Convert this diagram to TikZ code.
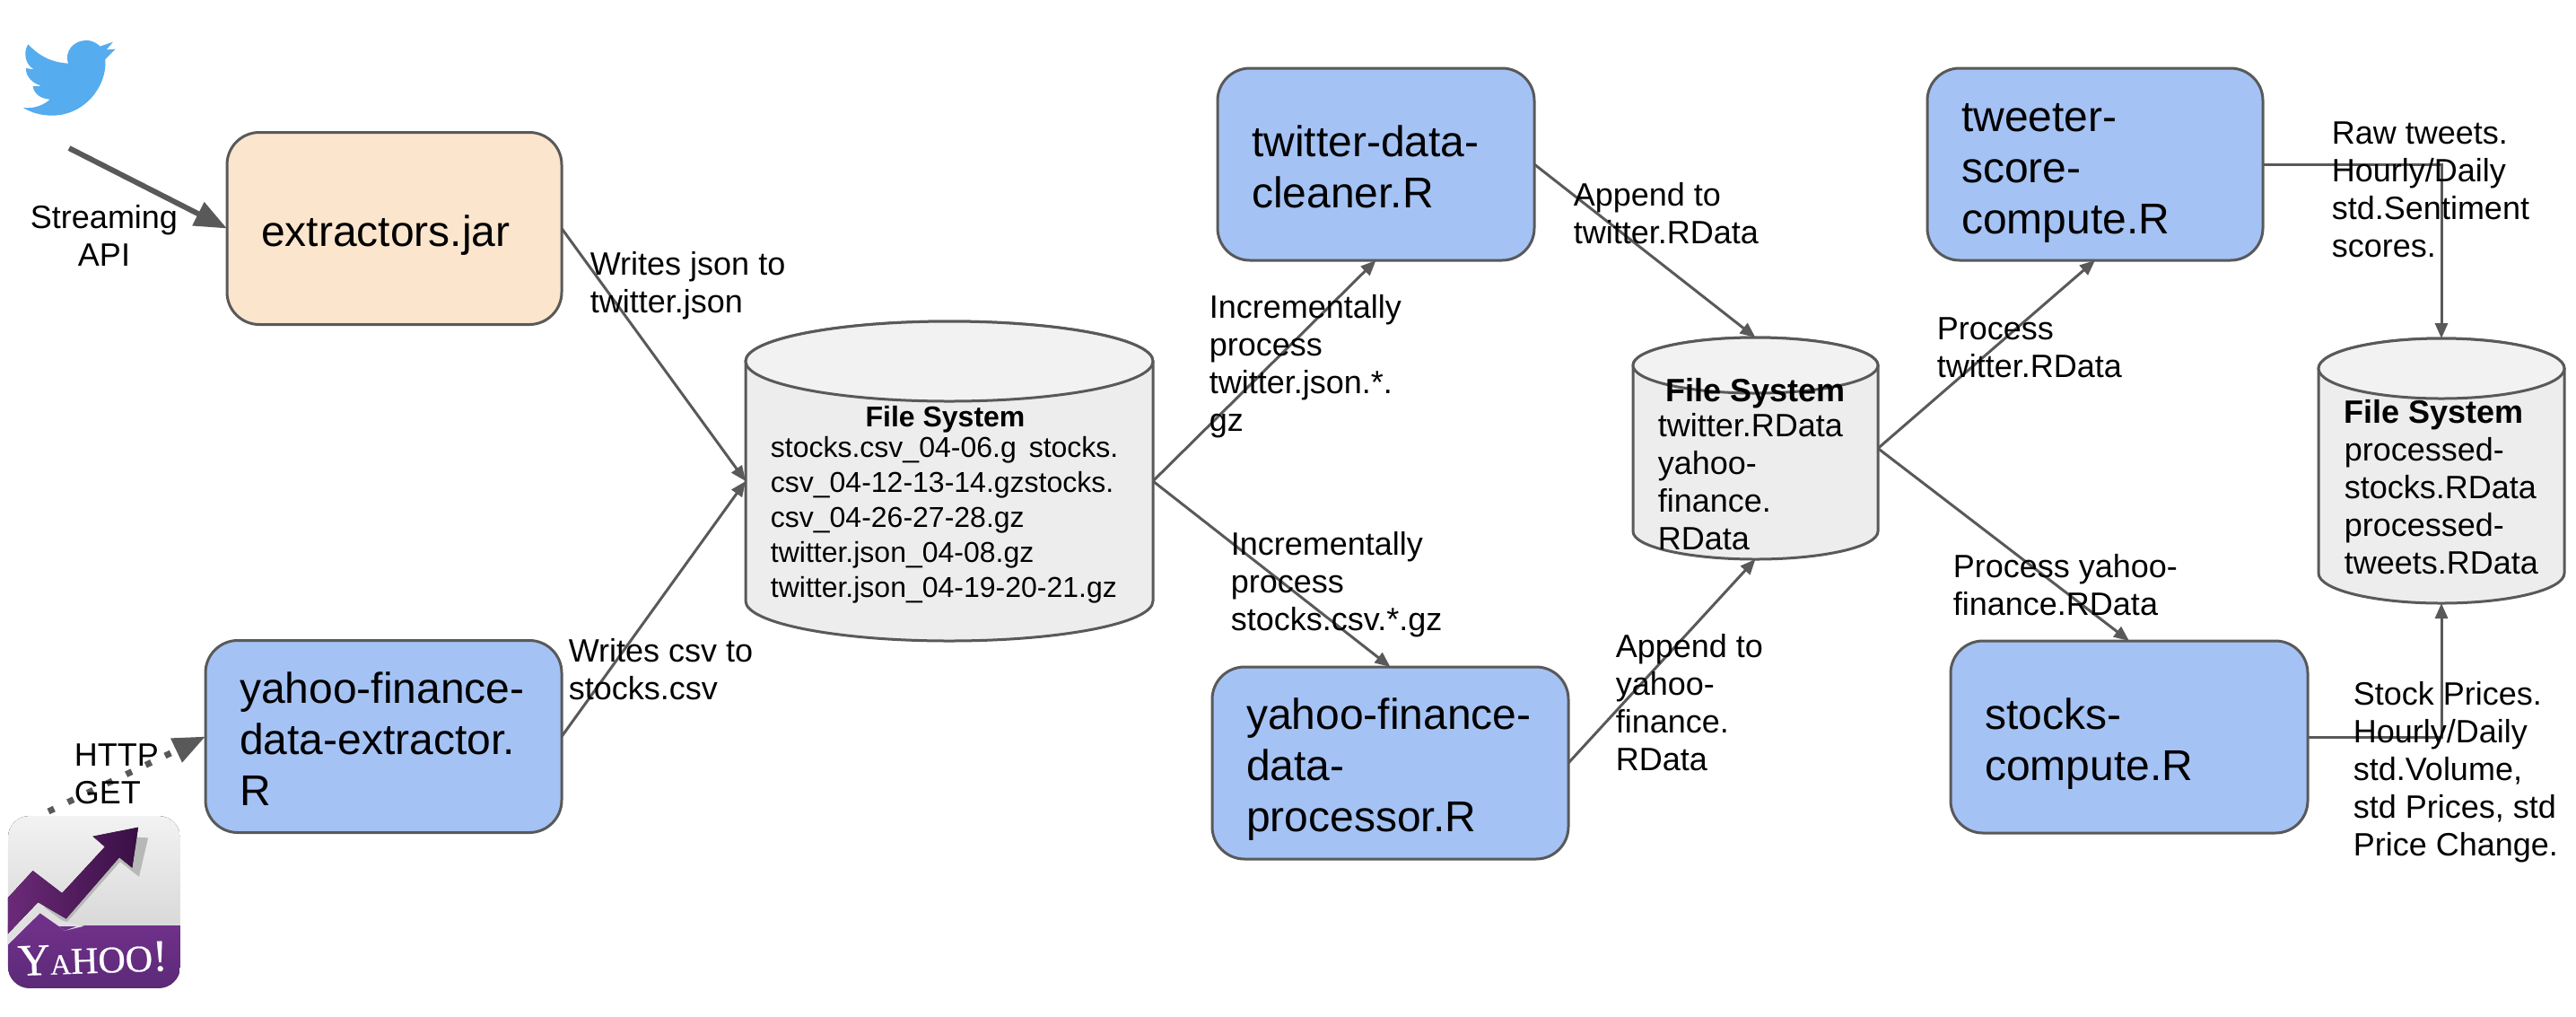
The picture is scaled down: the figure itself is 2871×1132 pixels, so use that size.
\documentclass[tikz,border=0pt]{standalone}
\usepackage{fontspec}
\setmainfont{Liberation Sans}
\newfontfamily\logofont[FakeBold=.6]{Liberation Serif}
\usetikzlibrary{arrows.meta}
\definecolor{linegray}{HTML}{595959}
\definecolor{boxblue}{HTML}{A4C2F4}
\definecolor{boxorange}{HTML}{FCE5CD}
\definecolor{birdblue}{HTML}{55ACEE}
\definecolor{boxviolet}{HTML}{6F3089}
\definecolor{boxvioletdark}{HTML}{5C2A78}
\definecolor{logoviolet}{HTML}{6B2A78}
\definecolor{logodark}{HTML}{3A0F45}
\newcommand{\filesystem}[6]{%
    \node (#1) at (#2,#3) [inner sep=0pt,outer sep=0pt,minimum width=#4pt,minimum height=#5pt]{};
    \path [fsbody] ([yshift=-#6pt]#1.north west) -- ([yshift=#6pt]#1.south west)
        arc[start angle=180,end angle=360,x radius=.5*#4pt,y radius=#6pt]
        -- ([yshift=-#6pt]#1.north east)
        arc[start angle=0,end angle=180,x radius=.5*#4pt,y radius=#6pt] -- cycle;
    \path [fsend] ([yshift=-#6pt]#1.north) ellipse [x radius=.5*#4pt,y radius=#6pt];
}
\begin{document}
\begin{tikzpicture}[%
        x=.5pt,y=-.5pt,%
        module/.style={%
            rectangle,%
            rounded corners=18pt,%
            minimum height=107pt,%
            inner xsep=19pt,%
            inner ysep=0pt,%
            outer sep=0pt,%
            align=left,%
            line width=1.5pt,%
            draw=linegray,%
            fill=boxblue,%
            font=\fontsize{24}{28.5}\selectfont%
        },%
        drop/.style={%
            execute at begin node={\rule{0pt}{#1}}%
        },%
        fsbody/.style={%
            line width=1.5pt,%
            draw=linegray,%
            fill=black!7%
        },%
        fsend/.style={%
            line width=1.5pt,%
            draw=linegray,%
            fill=black!5%
        },%
        note/.style={%
            anchor=north west,%
            inner sep=0pt,%
            xshift=-.25pt,%
            yshift=-2.5pt,%
            align=left,%
            font=\fontsize{18}{21}\selectfont,%
            execute at begin node=\strut%
        },%
        content/.style={%
            note,%
            yshift=.5pt%
        },%
        listing/.style={%
            note,%
            yshift=1pt,%
            font=\fontsize{16}{19.5}\selectfont%
        },%
        flow/.style={%
            line width=1.5pt,%
            draw=linegray,%
            -{Triangle[length=8.5pt,width=7pt]}%
        },%
        feed/.style={%
            line width=3pt,%
            draw=linegray,%
            -{Triangle[length=18pt,width=14pt]}%
        }%
    ]
    \useasboundingbox (0,0) rectangle (2871,1132);

    \begin{scope}[x=.2232pt,y=-.1667pt]
        \fill [birdblue] (70,148) .. controls (100,190) and (130,208) .. (170,212)
            .. controls (160,170) and (185,135) .. (215,135)
            .. controls (232,135) and (242,145) .. (250,155)
            -- (282,140) -- (266,166) -- (288,164) -- (263,198)
            .. controls (268,290) and (210,386) .. (130,386)
            .. controls (105,386) and (80,378) .. (58,360)
            .. controls (85,364) and (108,352) .. (125,332)
            .. controls (100,330) and (85,312) .. (82,288)
            -- (104,287)
            .. controls (80,278) and (64,255) .. (65,228)
            -- (85,232)
            .. controls (62,215) and (58,175) .. (70,148) -- cycle;
    \end{scope}

    \begin{scope}[shift={(0,680)},x=.2232pt,y=-.1667pt]
        \begin{scope}
            \clip [rounded corners=12pt] (20,687) rectangle (450,1262);
            \fill [top color=black!5,bottom color=black!15] (20,687) rectangle (450,1055);
            \fill [top color=boxviolet,bottom color=boxvioletdark] (20,1055) rectangle (450,1262);
            \fill [black!28] (20,1085) -- (92,975) -- (165,1045) -- (300,840) -- (347,890) -- (370,760) -- (340,758) -- (200,900) -- cycle;
            \fill [white!88!black] (20,1118) -- (100,1012) -- (162,1070) -- (210,1055) -- (150,1035) -- (95,975) -- (20,1080) -- cycle;
            \fill [boxviolet] (20,1118) -- (100,1012) -- (162,1070) -- (190,1056) -- (100,1056) -- cycle;
            \fill [left color=logoviolet,middle color=logoviolet,right color=logodark] (20,960) -- (82,870) -- (155,945) -- (262,790) -- (232,755) -- (345,725) -- (330,860) -- (298,825) -- (165,1030) -- (95,975) -- (20,1080) -- cycle;
        \end{scope}
    \end{scope}
    \node (yahootext) at (20,1087) [anchor=base west,rotate=2,inner sep=0pt,text=white,font=\logofont]{{\fontsize{25}{25}\selectfont Y}{\fontsize{16}{16}\selectfont A}{\fontsize{21}{21}\selectfont H}{\fontsize{21}{21}\selectfont OO}{\fontsize{25}{25}\selectfont !}};

    \coordinate (twitterapi) at (77,165);
    \coordinate (yahooapi) at (54,904);

    \node (extract) at (439.5,254.5) [module,drop=25pt,fill=boxorange,text width=148.5pt]{extractors.jar};
    \node (yfde) at (427.5,820.5) [module,drop=20.2pt,text width=160.5pt]{yahoo-finance-\\data-extractor.\\R};
    \node (cleaner) at (1533.5,183) [module,drop=20.2pt,text width=138.5pt]{twitter-data-\\cleaner.R};
    \node (processor) at (1549.5,850) [module,drop=24.2pt,text width=160.5pt]{yahoo-finance-\\data-\\processor.R};
    \node (tweeter) at (2335,183) [module,drop=25pt,text width=149pt]{tweeter-\\score-\\compute.R};
    \node (stocks) at (2373,821) [module,drop=24.7pt,text width=161pt]{stocks-\\compute.R};

    \filesystem{fsa}{1058}{536}{227}{178}{22.25}
    \filesystem{fsb}{1956.5}{499.5}{136.5}{123.5}{15.5}
    \filesystem{fsc}{2721}{524.5}{137}{147.5}{16.75}

    \node (fsatitle) at (1054,445) [listing,anchor=north,font=\fontsize{16}{19.5}\selectfont\bfseries]{File System};
    \node (fsatext) at (859,483) [listing]{stocks.csv\_04-06.g\hspace{7pt}stocks.\\csv\_04-12-13-14.gzstocks.\\csv\_04-26-27-28.gz\\twitter.json\_04-08.gz\\twitter.json\_04-19-20-21.gz};
    \node (fsbtitle) at (1957,414) [content,anchor=north,font=\fontsize{18}{21}\selectfont\bfseries]{File System};
    \node (fsbtext) at (1848,456) [content]{twitter.RData\\yahoo-\\finance.\\RData};
    \node (fsctext) at (2613,441) [content]{\textbf{File System}\\processed-\\stocks.RData\\processed-\\tweets.RData};

    \draw [feed] (twitterapi) -- (extract.west);
    \draw [feed,line width=3.5pt,dash pattern=on 3.5pt off 8.5pt] (yahooapi) -- (yfde.west);
    \draw [flow] (extract.east) -- (fsa.west);
    \draw [flow] (yfde.east) -- (fsa.west);
    \draw [flow] (fsa.east) -- (cleaner.south);
    \draw [flow] (fsa.east) -- (processor.north);
    \draw [flow] (cleaner.east) -- (fsb.north);
    \draw [flow] (processor.east) -- (fsb.south);
    \draw [flow] (fsb.east) -- (tweeter.south);
    \draw [flow] (fsb.east) -- (stocks.north);
    \draw [flow] (tweeter.east) -| (fsc.north);
    \draw [flow] (stocks.east) -| (fsc.south);

    \node (streaming) at (116.5,223) [note,anchor=north,align=center]{Streaming\\API};
    \node (http) at (83,823) [note]{HTTP\\GET};
    \node (writesjson) at (658,275) [note]{Writes json to\\twitter.json};
    \node (writescsv) at (634,706) [note]{Writes csv to\\stocks.csv};
    \node (increa) at (1348,323) [note]{Incrementally\\process\\twitter.json.*.\\gz};
    \node (increb) at (1372,587) [note]{Incrementally\\process\\stocks.csv.*.gz};
    \node (appenda) at (1754,198) [note]{Append to\\twitter.RData};
    \node (appendb) at (1801,701) [note]{Append to\\yahoo-\\finance.\\RData};
    \node (processa) at (2159,348) [note]{Process\\twitter.RData};
    \node (processb) at (2177,612) [note]{Process yahoo-\\finance.RData};
    \node (rawtweets) at (2599,130) [note]{Raw tweets.\\Hourly/Daily\\std.Sentiment\\scores.};
    \node (stockprices) at (2623,754) [note]{Stock Prices.\\Hourly/Daily\\std.Volume,\\std Prices, std\\Price Change.};
\end{tikzpicture}
\end{document}
